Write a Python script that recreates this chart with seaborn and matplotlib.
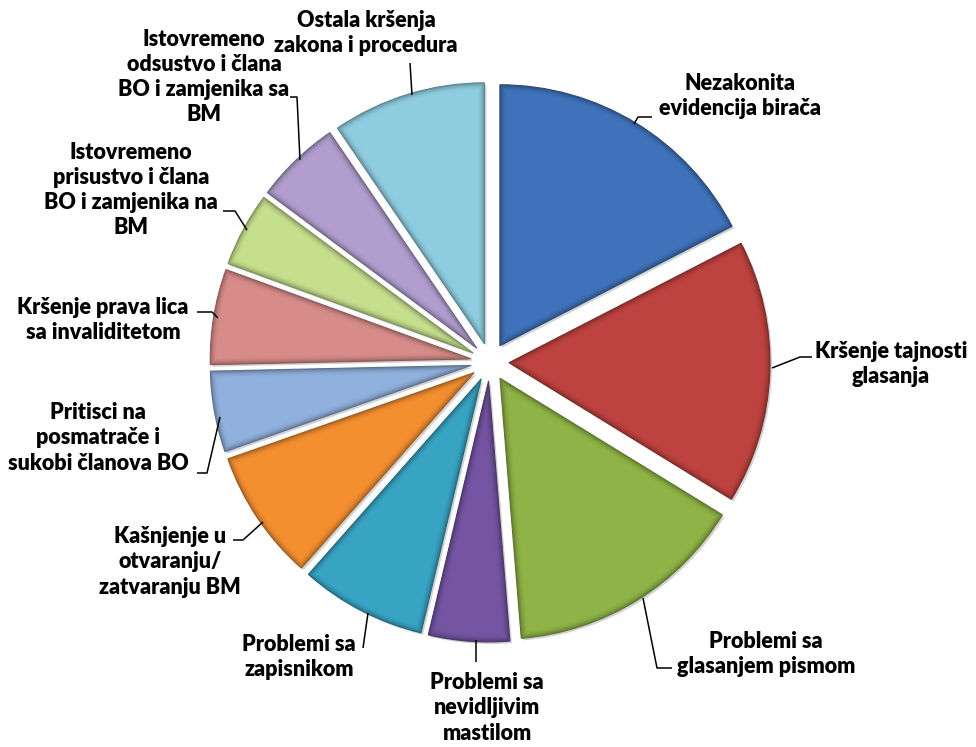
import matplotlib
matplotlib.use("Agg")
import numpy as np
import matplotlib.pyplot as plt
import seaborn as sns
from matplotlib import patheffects as pe
from matplotlib.patches import Polygon
import matplotlib.colors as mcolors

# ---- data ----
categories = [
    "Nezakonita\nevidencija birača",
    "Kršenje tajnosti\nglasanja",
    "Problemi sa\nglasanjem pismom",
    "Problemi sa\nnevidljivim\nmastilom",
    "Problemi sa\nzapisnikom",
    "Kašnjenje u\notvaranju/\nzatvaranju BM",
    "Pritisci na\nposmatrače i\nsukobi članova BO",
    "Kršenje prava lica\nsa invaliditetom",
    "Istovremeno\nprisustvo i člana\nBO i zamjenika na\nBM",
    "Istovremeno\nodsustvo i člana\nBO i zamjenika sa\nBM",
    "Ostala kršenja\nzakona i procedura",
]
values = [17.4, 16.3, 14.9, 5.0, 7.8, 8.1, 5.0, 5.9, 4.6, 5.3, 9.5]
colors_hex = ["#3F72BA", "#BE423F", "#8FB346", "#7454A3", "#38A4C4", "#F48F30",
              "#90B0DD", "#D88C8A", "#C6DF8D", "#B19ECF", "#8ECDE0"]

# ---- layout (pixel coords, top-down) ----
W, H = 976, 747
center_px = (490, 362)
radius_px = 261
explode_px = 19
label_pos = [(740, 96), (891, 364), (766, 654), (487, 708), (299, 657),
             (170, 562), (98, 438), (103, 320), (131, 190), (204, 77), (366, 33)]
leaders = [
    [(652, 117), (638, 117), (634, 124)],
    [(812, 357), (800, 357), (772, 368)],
    [(672, 668), (657, 668), (643, 598)],
    [(476, 662), (476, 640)],
    [(363, 648), (368, 613)],
    [(233, 540), (243, 540), (263, 522)],
    [(197, 473), (207, 473), (220, 417)],
    [(197, 312), (212, 312), (218, 318)],
    [(223, 211), (235, 211), (247, 230)],
    [(290, 97), (297, 97), (300, 160)],
    [(410, 63), (412, 95)],
]

sns.set_theme(style="white")
plt.rcParams['font.family'] = ['Lato', 'DejaVu Sans']
palette = sns.color_palette(colors_hex)

fig = plt.figure(figsize=(W / 100, H / 100), dpi=100)
ax = fig.add_axes([0, 0, 1, 1])

wedges, _ = ax.pie(values, colors=palette, startangle=90, counterclock=False,
                   radius=radius_px, center=(center_px[0], H - center_px[1]),
                   explode=[explode_px] * len(values), frame=False)


def inset_polygon(w, d, n=80):
    """Polygon of wedge w shrunk inward by distance d."""
    P = np.array(w.center, dtype=float)
    r = w.r
    t1, t2 = np.deg2rad(w.theta1), np.deg2rad(w.theta2)
    half = (t2 - t1) / 2
    tm = (t1 + t2) / 2
    Q = P + (d / np.sin(half)) * np.array([np.cos(tm), np.sin(tm)])
    R = r - d
    pts_ang = []
    for t in (t1, t2):
        e = np.array([np.cos(t), np.sin(t)])
        f = Q - P
        b = 2 * f.dot(e)
        c = f.dot(f) - R * R
        s = (-b + np.sqrt(b * b - 4 * c)) / 2
        X = Q + s * e
        pts_ang.append(np.arctan2(X[1] - P[1], X[0] - P[0]))
    a1, a2 = pts_ang
    if a2 < a1:
        a2 += 2 * np.pi
    arc = np.linspace(a1, a2, n)
    xs = np.concatenate([[Q[0]], P[0] + R * np.cos(arc)])
    ys = np.concatenate([[Q[1]], P[1] + R * np.sin(arc)])
    return np.column_stack([xs, ys])


for w, c in zip(wedges, palette):
    base = np.array(mcolors.to_rgb(c))
    dark = base * 0.72
    w.set_facecolor(dark)
    w.set_edgecolor(dark * 0.9)
    w.set_linewidth(0.8)
    w.set_path_effects([pe.SimplePatchShadow(offset=(1.5, -1.5), shadow_rgbFace=(0.5, 0.5, 0.5), alpha=0.35),
                        pe.Normal()])
    steps = 8
    for k in range(1, steps + 1):
        frac = k / steps
        col = dark + (base - dark) * (1 - (1 - frac) ** 2)
        poly = Polygon(inset_polygon(w, k * 0.9), closed=True, facecolor=col,
                       edgecolor='none', zorder=w.get_zorder() + 0.01 * k)
        ax.add_patch(poly)

ax.set_xlim(0, W)
ax.set_ylim(0, H)
ax.set_aspect('auto')
ax.axis('off')

for txt, (x, y) in zip(categories, label_pos):
    ax.text(x, H - y, txt, ha='center', va='center', multialignment='center',
            fontsize=15.5, fontweight='heavy', color='black', linespacing=1.25)

for pts in leaders:
    ax.plot([p[0] for p in pts], [H - p[1] for p in pts], color='black', lw=1.1,
            solid_capstyle='butt')

fig.savefig("out.png", dpi=100, facecolor='white')
